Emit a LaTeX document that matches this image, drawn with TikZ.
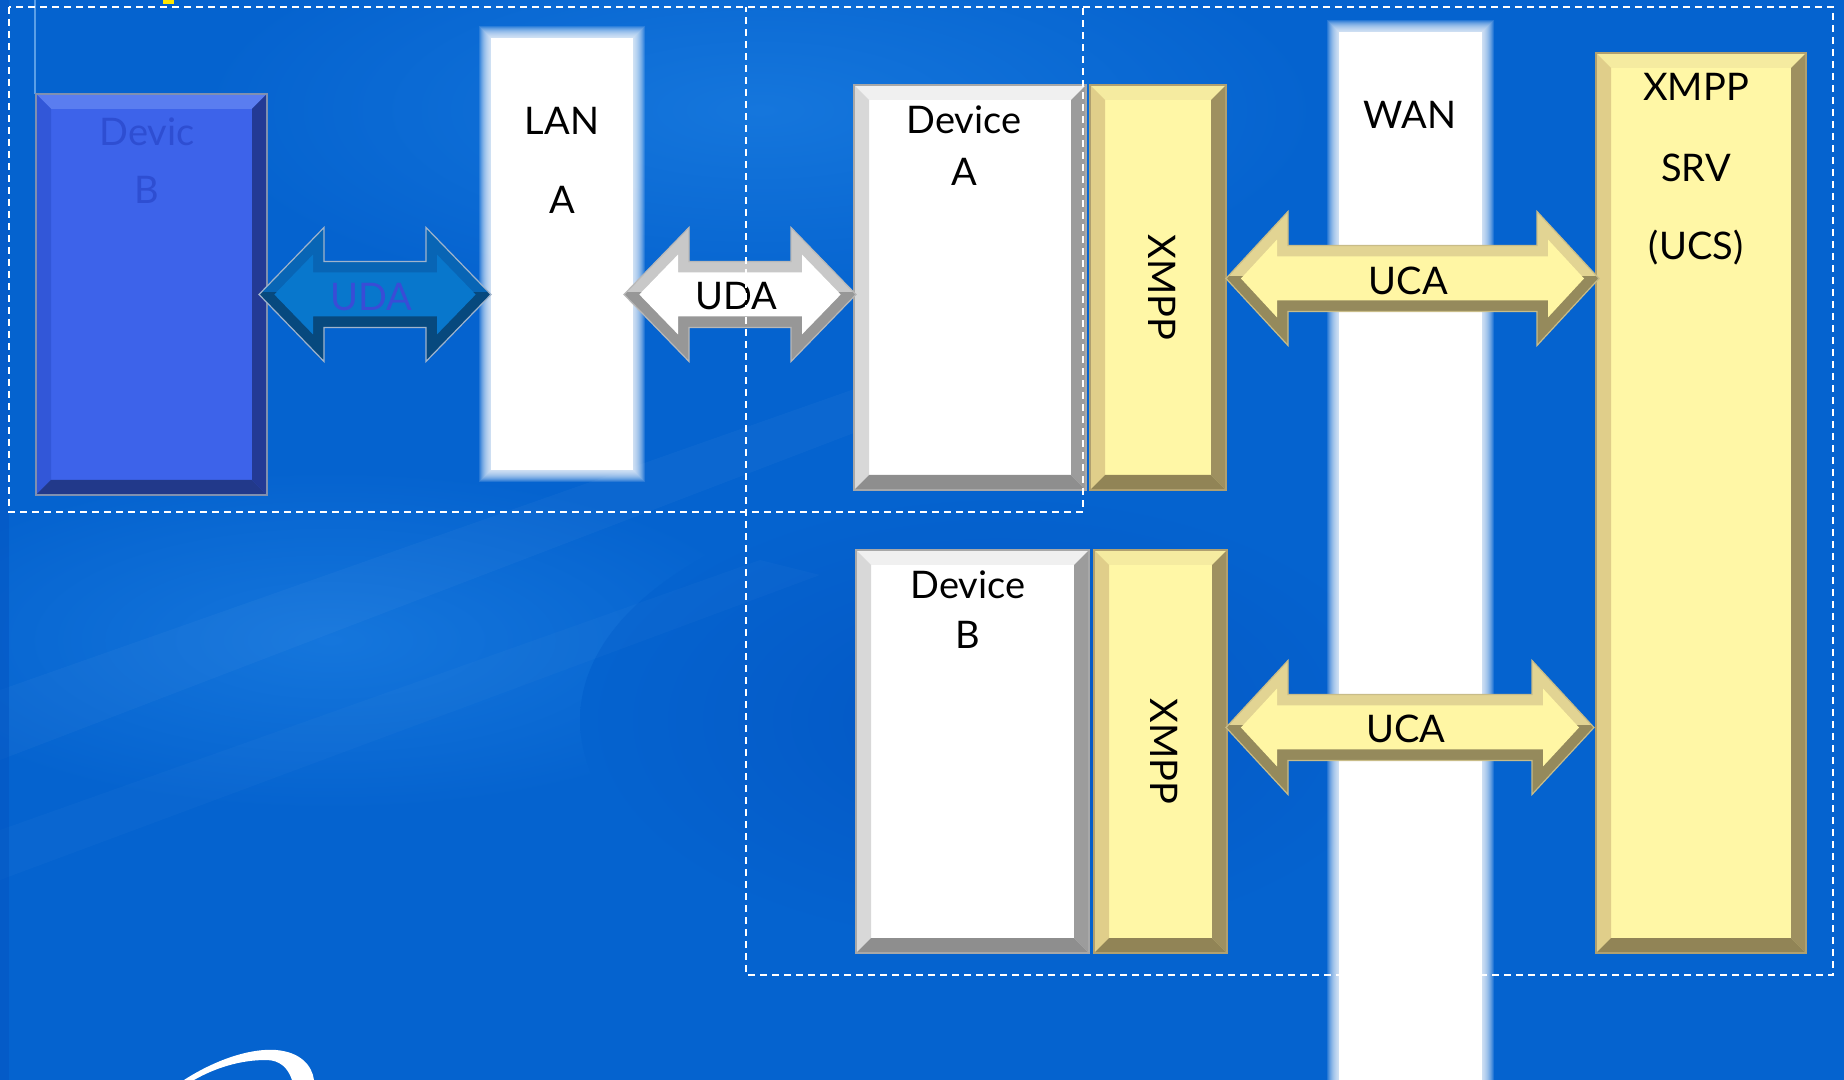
\documentclass[tikz,border=0pt]{standalone}
\usepackage{fontspec}
\setmainfont{Lato}
\usetikzlibrary{calc,fit}

% background
\definecolor{bgblue}{HTML}{0563CF}
\definecolor{bglight}{HTML}{1576DC}
\definecolor{bgdark}{HTML}{0457C4}
% bevelled boxes: white, yellow, blue
\definecolor{wbFace}{HTML}{FFFFFF}\definecolor{wbTop}{HTML}{F0F0F0}\definecolor{wbLeft}{HTML}{D8D8D8}
\definecolor{wbRight}{HTML}{9C9C9C}\definecolor{wbBot}{HTML}{8E8E8E}\definecolor{wbLine}{HTML}{A8A8A8}
\definecolor{ybFace}{HTML}{FFF7A6}\definecolor{ybTop}{HTML}{F5EBA0}\definecolor{ybLeft}{HTML}{E0CE8A}
\definecolor{ybRight}{HTML}{9E9060}\definecolor{ybBot}{HTML}{918456}\definecolor{ybLine}{HTML}{B0A070}
\definecolor{bbFace}{HTML}{3D63EA}\definecolor{bbTop}{HTML}{5A7DF0}\definecolor{bbLeft}{HTML}{3257D8}
\definecolor{bbRight}{HTML}{233A95}\definecolor{bbBot}{HTML}{22398A}\definecolor{bbLine}{HTML}{8090B0}
% block arrows: blue, white, yellow
\definecolor{baFace}{HTML}{0877CC}\definecolor{baLight}{HTML}{0865B5}\definecolor{baDark}{HTML}{07497E}\definecolor{baLine}{HTML}{A0B4CC}
\definecolor{waFace}{HTML}{FFFFFF}\definecolor{waLight}{HTML}{C8C8C8}\definecolor{waDark}{HTML}{979797}\definecolor{waLine}{HTML}{B8B8B8}
\definecolor{yaFace}{HTML}{FFF6A4}\definecolor{yaLight}{HTML}{E2D493}\definecolor{yaDark}{HTML}{958A5C}\definecolor{yaLine}{HTML}{C8BC88}
% faint text on blue
\definecolor{fainttext}{HTML}{2E4ED2}
\definecolor{faintuda}{HTML}{3A4CD6}

\tikzset{
  lbl/.style={font=\fontsize{19}{22}\selectfont, text=black, inner sep=0pt},
  fadedlbl/.style={lbl, text=fainttext},
  regionline/.style={draw=white, line width=1pt, dash pattern=on 3.5pt off 2.5pt},
}

\def\bev{15}
\def\ah{67}
\def\as{33}
\def\ad{11}
\def\arUp{3}

% a raised box with four bevelled edges
\newcommand\bevbox[4]{%
  \node[fit={#2 #3}, inner sep=0pt, outer sep=0pt, fill=#4Face] (#1) {};
  \fill[#4Top] (#1.north west) -- (#1.north east) -- ($(#1.north east)+(-\bev,\bev)$) -- ($(#1.north west)+(\bev,\bev)$) -- cycle;
  \fill[#4Left] (#1.north west) -- ($(#1.north west)+(\bev,\bev)$) -- ($(#1.south west)+(\bev,-\bev)$) -- (#1.south west) -- cycle;
  \fill[#4Right] (#1.north east) -- (#1.south east) -- ($(#1.south east)+(-\bev,-\bev)$) -- ($(#1.north east)+(-\bev,\bev)$) -- cycle;
  \fill[#4Bot] (#1.south west) -- ($(#1.south west)+(\bev,-\bev)$) -- ($(#1.south east)+(-\bev,-\bev)$) -- (#1.south east) -- cycle;
  \draw[#4Line, line width=0.7pt] (#1.north west) rectangle (#1.south east);
}

% a soft-edged white band
\newcommand\softbar[3]{%
  \node[fit={#2 #3}, inner sep=0pt, outer sep=0pt] (#1) {};
  \foreach \k in {12,11,...,1}{
    \fill[white, opacity=0.13] ($(#1.north west)+(-\k,-\k)$) rectangle ($(#1.south east)+(\k,\k)$);
  }
  \fill[white] (#1.north west) rectangle (#1.south east);
}

% a double-headed block arrow with bevelled faces, tip to tip
\newcommand\blockarrow[4]{%
  \pgfmathsetmacro\hl{#4}%
  \pgfmathsetmacro\arT{\ad*sqrt(\hl*\hl+\ah*\ah)/\ah}%
  \pgfmathsetmacro\arH{\ah-\ah*\ad/\hl-\ad*sqrt(\hl*\hl+\ah*\ah)/\hl}%
  \pgfmathsetmacro\arS{\as-\ad}%
  \pgfmathsetmacro\arB{\hl-\ad}%
  \fill[#3Dark] (#1) -- ($(#1)+(\hl,-\ah)$) -- ($(#1)+(\hl,-\as)$) -- ($(#2)+(-\hl,-\as)$) -- ($(#2)+(-\hl,-\ah)$) -- (#2)
    -- ($(#2)+(-\hl,\ah)$) -- ($(#2)+(-\hl,\as)$) -- ($(#1)+(\hl,\as)$) -- ($(#1)+(\hl,\ah)$) -- cycle;
  \begin{scope}
    \clip ($(#1)+(-5,-100)$) rectangle ($(#2)+(5,-\arUp)$);
    \fill[#3Light] (#1) -- ($(#1)+(\hl,-\ah)$) -- ($(#1)+(\hl,-\as)$) -- ($(#2)+(-\hl,-\as)$) -- ($(#2)+(-\hl,-\ah)$) -- (#2)
      -- ($(#2)+(-\hl,\ah)$) -- ($(#2)+(-\hl,\as)$) -- ($(#1)+(\hl,\as)$) -- ($(#1)+(\hl,\ah)$) -- cycle;
  \end{scope}
  \begin{scope}[yshift=\arUp*0.5pt]
  \fill[#3Face] ($(#1)+(\arT,0)$) -- ($(#1)+(\arB,-\arH)$) -- ($(#1)+(\arB,-\arS)$) -- ($(#2)+(-\arB,-\arS)$) -- ($(#2)+(-\arB,-\arH)$) -- ($(#2)+(-\arT,0)$)
    -- ($(#2)+(-\arB,\arH)$) -- ($(#2)+(-\arB,\arS)$) -- ($(#1)+(\arB,\arS)$) -- ($(#1)+(\arB,\arH)$) -- cycle;
  \end{scope}
  \draw[#3Line, line width=0.6pt] (#1) -- ($(#1)+(\hl,-\ah)$) -- ($(#1)+(\hl,-\as)$) -- ($(#2)+(-\hl,-\as)$) -- ($(#2)+(-\hl,-\ah)$) -- (#2)
    -- ($(#2)+(-\hl,\ah)$) -- ($(#2)+(-\hl,\as)$) -- ($(#1)+(\hl,\as)$) -- ($(#1)+(\hl,\ah)$) -- cycle;
}

\begin{document}
\begin{tikzpicture}[x=0.5pt,y=-0.5pt]
\useasboundingbox (0,0) rectangle (1844,1080);

% ---------- background ----------
\fill[bgblue] (0,0) rectangle (1844,1080);
\shade[inner color=bglight, outer color=bgblue] (760,110) ellipse [x radius=560, y radius=200];
\shade[inner color=bglight, outer color=bgblue] (330,640) ellipse [x radius=450, y radius=170];
\shade[inner color=bgdark, outer color=bgblue] (1000,720) ellipse [x radius=420, y radius=230];
\fill[white, opacity=0.03] (0,760) -- (0,690) -- (880,380) -- (940,400) -- cycle;
\fill[white, opacity=0.025] (0,880) -- (0,830) -- (760,560) -- (820,575) -- cycle;
\fill[bgdark, opacity=0.6] (0,0) rectangle (9,1080);
\draw[bglight!70!white, line width=0.6pt] (35,0) -- (35,94);
\fill[yellow!90!orange] (163,0) rectangle (174,4);
% swoosh
\fill[white] (184,1080) .. controls (215,1060) and (250,1048) .. (276,1050)
  .. controls (300,1052) and (312,1065) .. (314,1080) -- (292,1080)
  .. controls (288,1068) and (280,1060) .. (266,1060)
  .. controls (240,1060) and (215,1068) .. (194,1080) -- cycle;

% ---------- soft network bands ----------
\softbar{lanA}{(491,38)}{(633,470)}
\softbar{wan}{(1339,32)}{(1482,1095)}

% ---------- boxes ----------
\bevbox{devBl}{(36,94)}{(267,495)}{bb}
\bevbox{devA}{(854,85)}{(1086,490)}{wb}
\bevbox{xmppA}{(1090,85)}{(1226,490)}{yb}
\bevbox{devB}{(856,550)}{(1089,953)}{wb}
\bevbox{xmppB}{(1094,550)}{(1227,953)}{yb}
\bevbox{srv}{(1596,53)}{(1806,953)}{yb}

% ---------- connector end points ----------
\coordinate (u1L) at ($(devBl.east)+(-8,0)$);
\coordinate (u1R) at (lanA.west |- u1L);
\coordinate (u2L) at ($(lanA.east |- u1L)+(-9,0)$);
\coordinate (u2R) at ($(devA.west |- u1L)+(2,0)$);
\coordinate (c1L) at ($(xmppA.east)+(0,-9)$);
\coordinate (c1R) at ($(srv.west |- c1L)+(3,0)$);
\coordinate (c2L) at ($(xmppB.east)+(-1,-24)$);
\coordinate (c2R) at ($(srv.west |- c2L)+(-2,0)$);

% ---------- block arrows ----------
\blockarrow{u1L}{u1R}{ba}{65}
\blockarrow{u2L}{u2R}{wa}{65}
\blockarrow{c1L}{c1R}{ya}{62}
\blockarrow{c2L}{c2R}{ya}{62}

% ---------- labels ----------
\node[fadedlbl] (tDevBl1) at (147,132) {Devic};
\node[fadedlbl] (tDevBl2) at (147,190) {B};
\node[lbl] (tLan1) at (562,121) {LAN};
\node[lbl] (tLan2) at (562,200) {A};
\node[lbl, text=faintuda] (tUda1) at ($(u1L)!0.5!(u1R)+(-4,3)$) {UDA};
\node[lbl] (tUda2) at ($(u2L)!0.5!(u2R)+(-4,2)$) {UDA};
\node[lbl] (tDevA1) at (964,120) {Device};
\node[lbl] (tDevA2) at (964,172) {A};
\node[lbl, rotate=-90] (tXmppA) at ($(xmppA.center)+(4,0)$) {XMPP};
\node[lbl] (tWan) at (1410,115) {WAN};
\node[lbl] (tUca1) at ($(c1L)!0.5!(c1R)+(-4,2)$) {UCA};
\node[lbl] (tSrv1) at (1696,87) {XMPP};
\node[lbl] (tSrv2) at (1696,168) {SRV};
\node[lbl] (tSrv3) at (1696,248) {(UCS)};
\node[lbl] (tDevB1) at (968,585) {Device};
\node[lbl] (tDevB2) at (968,635) {B};
\node[lbl, rotate=-90] (tXmppB) at ($(xmppB.center)+(4,0)$) {XMPP};
\node[lbl] (tUca2) at ($(c2L)!0.5!(c2R)+(-4,1)$) {UCA};

% ---------- dashed regions ----------
\draw[regionline] (9,7) rectangle (1083,512);
\draw[regionline] (1083,7) -- (1833,7) -- (1833,975) -- (746,975) -- (746,7);
\end{tikzpicture}
\end{document}
